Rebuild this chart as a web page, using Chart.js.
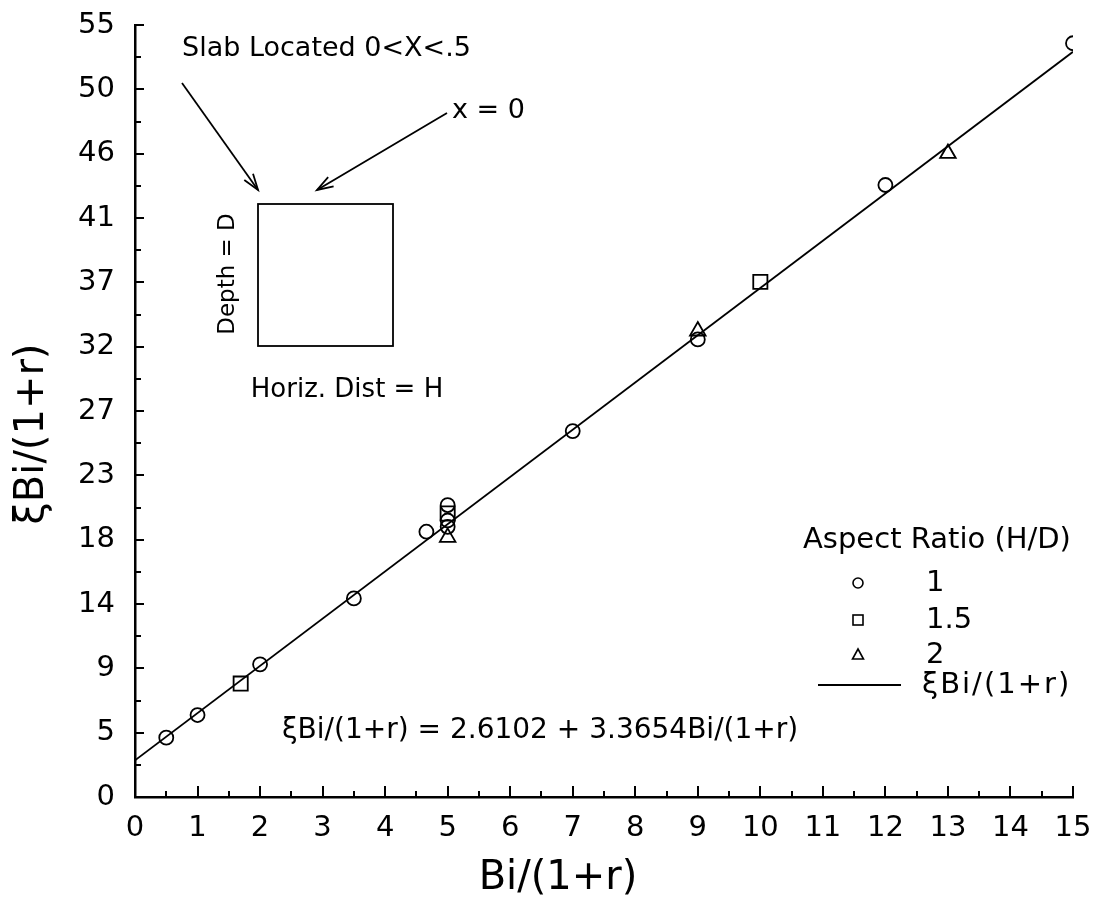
<!DOCTYPE html>
<html>
<head>
<meta charset="utf-8">
<script src="https://cdn.jsdelivr.net/npm/chart.js@4.4.1/dist/chart.umd.min.js"></script>
<style>
html,body{margin:0;padding:0;background:#fff;}
#wrap{width:1099px;height:902px;position:relative;}
</style>
</head>
<body>
<div id="wrap"><canvas id="c" width="1099" height="902"></canvas></div>
<script>
// ---- data ----
const circleX   = [0.5, 1, 2, 3.5, 4.66, 5, 5, 5, 7, 9, 12, 15];
const circleY   = [4.23, 5.84, 9.45, 14.15, 18.9, 20.8, 19.7, 19.25, 26.07, 32.6, 43.6, 53.7];
const squareX   = [1.69, 5, 10];
const squareY   = [8.08, 20.2, 36.7];
const triangleX = [5, 9, 13];
const triangleY = [18.5, 33.2, 45.85];
const fitX      = [0, 15];
const fitY      = [2.6102, 53.0912];
const xTickLabels = ['0','1','2','3','4','5','6','7','8','9','10','11','12','13','14','15'];
const yTickLabels = ['0','5','9','14','18','23','27','32','37','41','46','50','55'];
const legendLabels = ['1', '1.5', '2', 'ξBi/(1+r)'];
const legendTitle = 'Aspect Ratio (H/D)';
const xTitle = 'Bi/(1+r)';
const yTitle = 'ξBi/(1+r)';
const equationText = 'ξBi/(1+r) = 2.6102 + 3.3654Bi/(1+r)';
const insetTexts = ['Slab Located 0<X<.5', 'x = 0', 'Depth = D', 'Horiz. Dist = H'];

const X_MAX = 15, Y_MAX = 55;
const FONT = '"DejaVu Sans", "Liberation Sans", sans-serif';

const pts = (xs, ys) => xs.map((x, i) => ({x: x, y: ys[i]}));

// inward tick marks (major + minor)
const inwardTicks = {
  id: 'inwardTicks',
  afterDraw(chart) {
    const ctx = chart.ctx, xs = chart.scales.x, ys = chart.scales.y, a = chart.chartArea;
    ctx.save();
    ctx.strokeStyle = '#000';
    ctx.lineWidth = 2;
    const xv = xs.ticks.map(t => t.value);
    xv.forEach((v, i) => {
      const px = Math.round(xs.getPixelForValue(v));
      ctx.beginPath(); ctx.moveTo(px, a.bottom); ctx.lineTo(px, a.bottom - 11); ctx.stroke();
      if (i < xv.length - 1) {
        const mx = Math.round(xs.getPixelForValue((v + xv[i + 1]) / 2));
        ctx.beginPath(); ctx.moveTo(mx, a.bottom); ctx.lineTo(mx, a.bottom - 6); ctx.stroke();
      }
    });
    const yv = ys.ticks.map(t => t.value);
    yv.forEach((v, i) => {
      const py = Math.round(ys.getPixelForValue(v));
      ctx.beginPath(); ctx.moveTo(a.left, py); ctx.lineTo(a.left + 9, py); ctx.stroke();
      if (i < yv.length - 1) {
        const my = Math.round(ys.getPixelForValue((v + yv[i + 1]) / 2));
        ctx.beginPath(); ctx.moveTo(a.left, my); ctx.lineTo(a.left + 6, my); ctx.stroke();
      }
    });
    ctx.restore();
  }
};

function arrow(ctx, x1, y1, x2, y2) {
  ctx.beginPath(); ctx.moveTo(x1, y1); ctx.lineTo(x2, y2); ctx.stroke();
  const ang = Math.atan2(y2 - y1, x2 - x1), L = 17, w = 0.32;
  ctx.beginPath();
  ctx.moveTo(x2 - L * Math.cos(ang - w), y2 - L * Math.sin(ang - w));
  ctx.lineTo(x2, y2);
  ctx.lineTo(x2 - L * Math.cos(ang + w), y2 - L * Math.sin(ang + w));
  ctx.stroke();
}

// annotations: titles, equation, inset diagram, legend
const annotations = {
  id: 'annotations',
  afterDraw(chart) {
    const ctx = chart.ctx;
    ctx.save();
    ctx.fillStyle = '#000'; ctx.strokeStyle = '#000';
    ctx.textBaseline = 'middle';

    // axis titles
    ctx.font = '40px ' + FONT;
    ctx.textAlign = 'center';
    ctx.fillText(xTitle, 558, 879);
    ctx.save(); ctx.translate(33, 434); ctx.rotate(-Math.PI / 2);
    ctx.fillText(yTitle, 0, 0); ctx.restore();

    // equation
    ctx.font = '28px ' + FONT;
    ctx.textAlign = 'left';
    ctx.fillText(equationText, 282, 731);

    // inset diagram
    ctx.font = '27px ' + FONT;
    ctx.fillText(insetTexts[0], 182, 49);
    ctx.fillText(insetTexts[1], 452, 111);
    ctx.textAlign = 'center';
    ctx.font = '26px ' + FONT;
    ctx.fillText(insetTexts[3], 347, 390);
    ctx.save(); ctx.translate(228, 274); ctx.rotate(-Math.PI / 2);
    ctx.font = '23px ' + FONT;
    ctx.fillText(insetTexts[2], 0, 0); ctx.restore();
    ctx.lineWidth = 1.8;
    ctx.strokeRect(258, 204, 135, 142);
    arrow(ctx, 182, 83, 258, 190);
    arrow(ctx, 447, 113, 317, 190);

    // legend
    ctx.font = '29px ' + FONT;
    ctx.textAlign = 'left';
    ctx.fillText(legendTitle, 803, 540);
    const ly = [583, 620, 655, 685];
    legendLabels.forEach((t, i) => {
      if (i === 3) { ctx.letterSpacing = '2px'; ctx.fillText(t, 922, ly[i]); ctx.letterSpacing = '0px'; }
      else ctx.fillText(t, 926, ly[i]);
    });
    ctx.lineWidth = 1.6;
    ctx.beginPath(); ctx.arc(858, ly[0], 5, 0, Math.PI * 2); ctx.stroke();
    ctx.strokeRect(853, ly[1] - 5, 10, 10);
    ctx.beginPath(); ctx.moveTo(858, ly[2] - 6); ctx.lineTo(863.5, ly[2] + 4); ctx.lineTo(852.5, ly[2] + 4); ctx.closePath(); ctx.stroke();
    ctx.lineWidth = 1.8;
    ctx.beginPath(); ctx.moveTo(818, ly[3]); ctx.lineTo(901, ly[3]); ctx.stroke();
    ctx.restore();
  }
};

const markerCommon = {
  showLine: false,
  borderColor: '#000',
  backgroundColor: 'rgba(0,0,0,0)',
  pointBorderWidth: 1.8,
  pointBackgroundColor: 'rgba(0,0,0,0)',
  pointBorderColor: '#000'
};

new Chart(document.getElementById('c'), {
  type: 'scatter',
  data: {
    datasets: [
      { label: 'fit', data: pts(fitX, fitY), showLine: true, borderColor: '#000', borderWidth: 1.8, pointRadius: 0, fill: false, clip: 0 },
      Object.assign({ label: '1', data: pts(circleX, circleY), pointStyle: 'circle', pointRadius: 7, clip: {left: false, top: false, right: 0, bottom: false} }, markerCommon),
      Object.assign({ label: '1.5', data: pts(squareX, squareY), pointStyle: 'rect', pointRadius: 10, clip: false }, markerCommon),
      Object.assign({ label: '2', data: pts(triangleX, triangleY), pointStyle: 'triangle', pointRadius: 9, clip: false }, markerCommon)
    ]
  },
  options: {
    responsive: false,
    devicePixelRatio: 1,
    animation: false,
    events: [],
    layout: { padding: { top: 25, right: 26, left: 0, bottom: 0 } },
    plugins: { legend: { display: false }, tooltip: { enabled: false } },
    scales: {
      x: {
        type: 'linear', min: 0, max: X_MAX,
        afterBuildTicks: s => { s.ticks = xTickLabels.map(l => ({ value: Number(l) })); },
        afterFit: s => { s.height = 105; s.paddingLeft = 0; s.paddingRight = 0; },
        grid: { display: false, drawTicks: false, tickLength: 0 },
        border: { display: true, color: '#000', width: 2.5 },
        ticks: { autoSkip: false, maxRotation: 0, padding: 14, color: '#000', font: { family: FONT, size: 29 },
                 callback: (v, i) => xTickLabels[i] }
      },
      y: {
        type: 'linear', min: 0, max: Y_MAX,
        afterBuildTicks: s => { s.ticks = yTickLabels.map((l, i) => ({ value: Y_MAX * i / (yTickLabels.length - 1) })); },
        afterFit: s => { s.width = 135; s.paddingTop = 0; s.paddingBottom = 0; },
        grid: { display: false, drawTicks: false, tickLength: 0 },
        border: { display: true, color: '#000', width: 2.5 },
        ticks: { autoSkip: false, padding: 20, color: '#000', font: { family: FONT, size: 29 },
                 callback: (v, i) => yTickLabels[i] }
      }
    }
  },
  plugins: [inwardTicks, annotations]
});
</script>
</body>
</html>
